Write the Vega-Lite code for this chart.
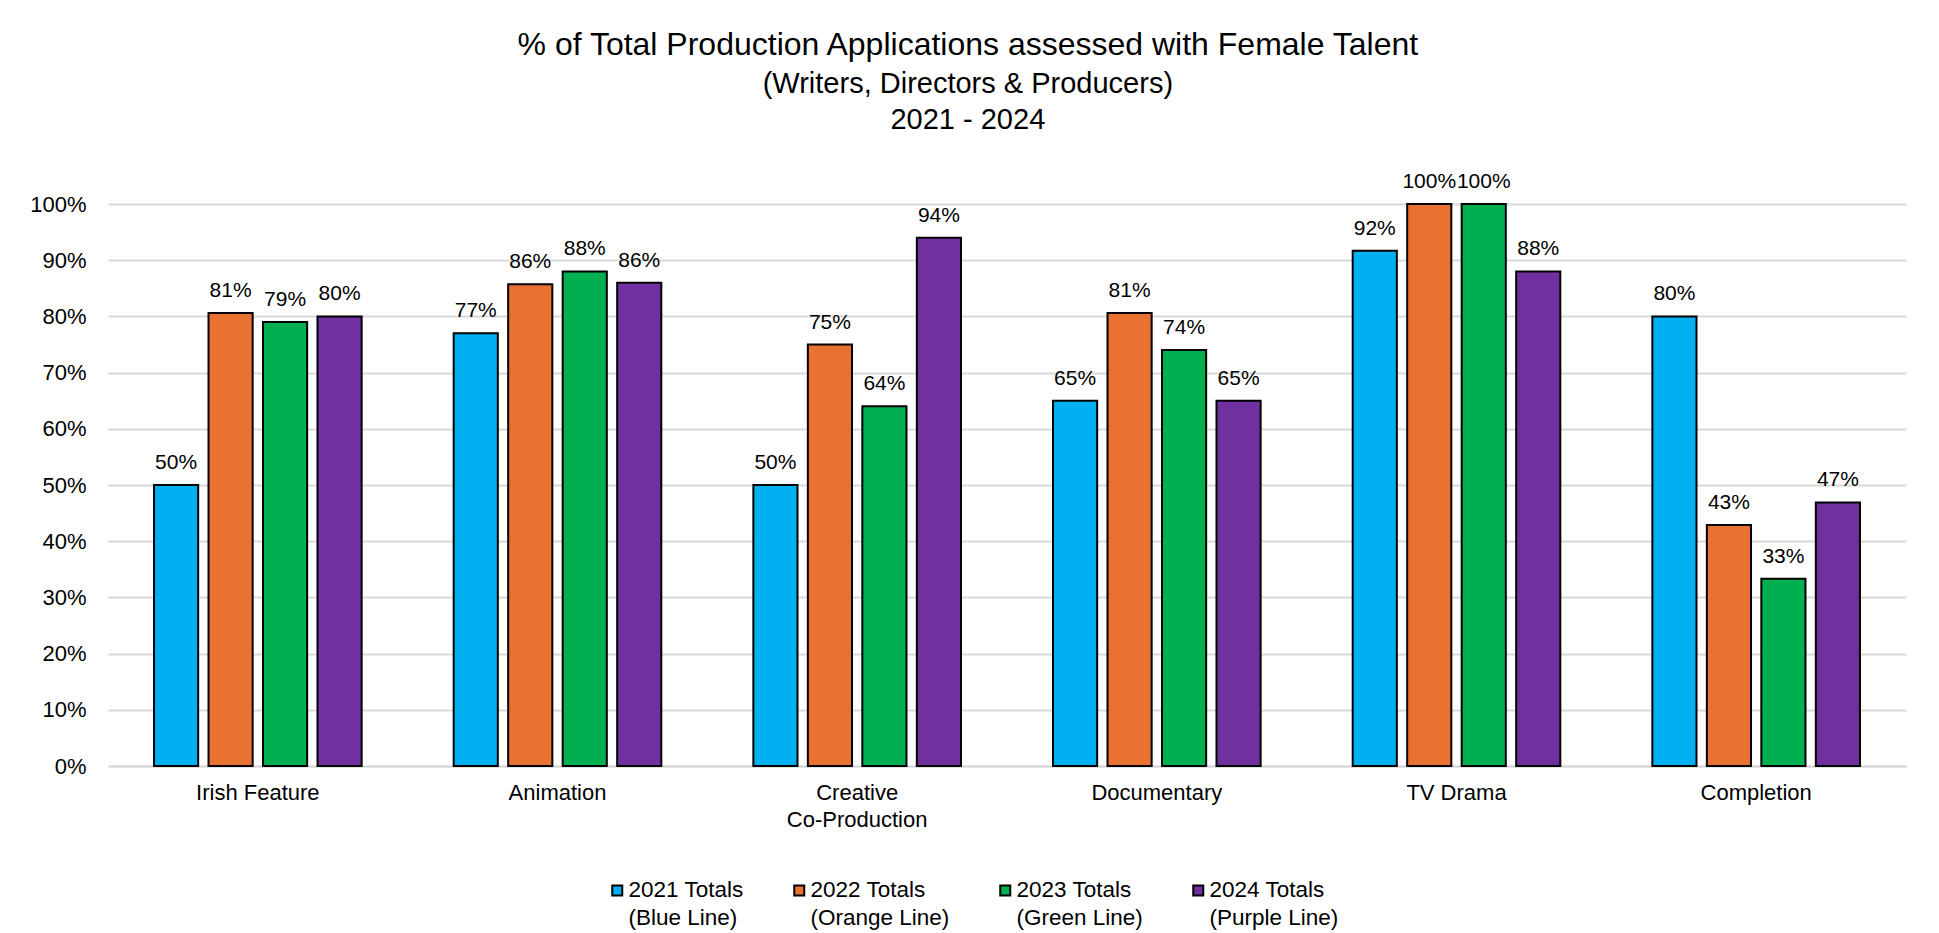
{
  "$schema": "https://vega.github.io/schema/vega-lite/v6.json",
  "width": 1798,
  "height": 562,
  "autosize": {"type": "none"},
  "padding": {"left": 108, "top": 204, "right": 33, "bottom": 167},
  "background": "white",
  "config": {
    "font": "Liberation Sans",
    "view": {"stroke": null},
    "title": {"color": "#000000", "fontWeight": "normal", "subtitleColor": "#000000"}
  },
  "title": {
    "text": "% of Total Production Applications assessed with Female Talent",
    "subtitle": ["(Writers, Directors & Producers)", "2021 - 2024"],
    "fontSize": 32,
    "subtitleFontSize": 29,
    "subtitleLineHeight": 36,
    "subtitlePadding": 8,
    "anchor": "middle",
    "frame": "bounds",
    "offset": 35
  },
  "data": {
    "values": [
      {"category": "Irish Feature", "series": "2021 Totals (Blue Line)", "value": 0.50},
      {"category": "Irish Feature", "series": "2022 Totals (Orange Line)", "value": 0.806},
      {"category": "Irish Feature", "series": "2023 Totals (Green Line)", "value": 0.79},
      {"category": "Irish Feature", "series": "2024 Totals (Purple Line)", "value": 0.80},
      {"category": "Animation", "series": "2021 Totals (Blue Line)", "value": 0.77},
      {"category": "Animation", "series": "2022 Totals (Orange Line)", "value": 0.857},
      {"category": "Animation", "series": "2023 Totals (Green Line)", "value": 0.88},
      {"category": "Animation", "series": "2024 Totals (Purple Line)", "value": 0.86},
      {"category": "Creative Co-Production", "series": "2021 Totals (Blue Line)", "value": 0.50},
      {"category": "Creative Co-Production", "series": "2022 Totals (Orange Line)", "value": 0.75},
      {"category": "Creative Co-Production", "series": "2023 Totals (Green Line)", "value": 0.64},
      {"category": "Creative Co-Production", "series": "2024 Totals (Purple Line)", "value": 0.94},
      {"category": "Documentary", "series": "2021 Totals (Blue Line)", "value": 0.65},
      {"category": "Documentary", "series": "2022 Totals (Orange Line)", "value": 0.806},
      {"category": "Documentary", "series": "2023 Totals (Green Line)", "value": 0.74},
      {"category": "Documentary", "series": "2024 Totals (Purple Line)", "value": 0.65},
      {"category": "TV Drama", "series": "2021 Totals (Blue Line)", "value": 0.917},
      {"category": "TV Drama", "series": "2022 Totals (Orange Line)", "value": 1.0},
      {"category": "TV Drama", "series": "2023 Totals (Green Line)", "value": 1.0},
      {"category": "TV Drama", "series": "2024 Totals (Purple Line)", "value": 0.88},
      {"category": "Completion", "series": "2021 Totals (Blue Line)", "value": 0.80},
      {"category": "Completion", "series": "2022 Totals (Orange Line)", "value": 0.429},
      {"category": "Completion", "series": "2023 Totals (Green Line)", "value": 0.333},
      {"category": "Completion", "series": "2024 Totals (Purple Line)", "value": 0.469}
    ]
  },
  "encoding": {
    "x": {
      "field": "category",
      "type": "nominal",
      "sort": ["Irish Feature", "Animation", "Creative Co-Production", "Documentary", "TV Drama", "Completion"],
      "scale": {"paddingInner": 0.2726, "paddingOuter": 0.1363},
      "axis": {
        "title": null,
        "labelAngle": 0,
        "labelFontSize": 22,
        "labelColor": "#000000",
        "labelPadding": 16,
        "labelLineHeight": 27,
        "labelBaseline": "top",
        "ticks": false,
        "tickSize": 0,
        "domainColor": "#d9d9d9",
        "domainWidth": 2,
        "labelExpr": "length(datum.label) > 20 ? [substring(datum.label, 0, 8), substring(datum.label, 9)] : datum.label"
      }
    },
    "xOffset": {
      "field": "series",
      "type": "nominal",
      "sort": ["2021 Totals (Blue Line)", "2022 Totals (Orange Line)", "2023 Totals (Green Line)", "2024 Totals (Purple Line)"],
      "scale": {"paddingInner": 0.19, "paddingOuter": 0.095}
    },
    "y": {
      "field": "value",
      "type": "quantitative",
      "scale": {"domain": [0, 1], "nice": false, "zero": true},
      "axis": {
        "title": null,
        "format": ".0%",
        "values": [0, 0.1, 0.2, 0.3, 0.4, 0.5, 0.6, 0.7, 0.8, 0.9, 1.0],
        "labelFontSize": 22,
        "labelColor": "#000000",
        "labelPadding": 22,
        "ticks": false,
        "tickSize": 0,
        "domain": false,
        "gridColor": "#d9d9d9",
        "gridWidth": 2
      }
    }
  },
  "layer": [
    {
      "mark": {"type": "bar", "stroke": "#000000", "strokeWidth": 2},
      "encoding": {
        "color": {
          "field": "series",
          "type": "nominal",
          "sort": ["2021 Totals (Blue Line)", "2022 Totals (Orange Line)", "2023 Totals (Green Line)", "2024 Totals (Purple Line)"],
          "scale": {"range": ["#00B0F0", "#E97132", "#00B050", "#7030A0"]},
          "legend": {
            "title": null,
            "orient": "none",
            "legendX": 498,
            "legendY": 675,
            "padding": 0,
            "direction": "horizontal",
            "symbolType": "square",
            "symbolSize": 100,
            "symbolStrokeColor": "#000000",
            "symbolStrokeWidth": 2,
            "symbolOpacity": 1,
            "labelFontSize": 22.5,
            "labelColor": "#000000",
            "labelOffset": 0,
            "labelLimit": 300,
            "columnPadding": 44,
            "labelExpr": "[substring(datum.label, 0, 11), substring(datum.label, 12)]",
            "labelBaseline": "top",
            "encode": {"labels": {"update": {"lineHeight": {"value": 28}, "dy": {"value": -11}}}}
          }
        }
      }
    },
    {
      "mark": {"type": "text", "baseline": "alphabetic", "dy": -16, "fontSize": 21, "color": "#000000"},
      "encoding": {
        "text": {"field": "value", "type": "quantitative", "format": ".0%"}
      }
    }
  ]
}
